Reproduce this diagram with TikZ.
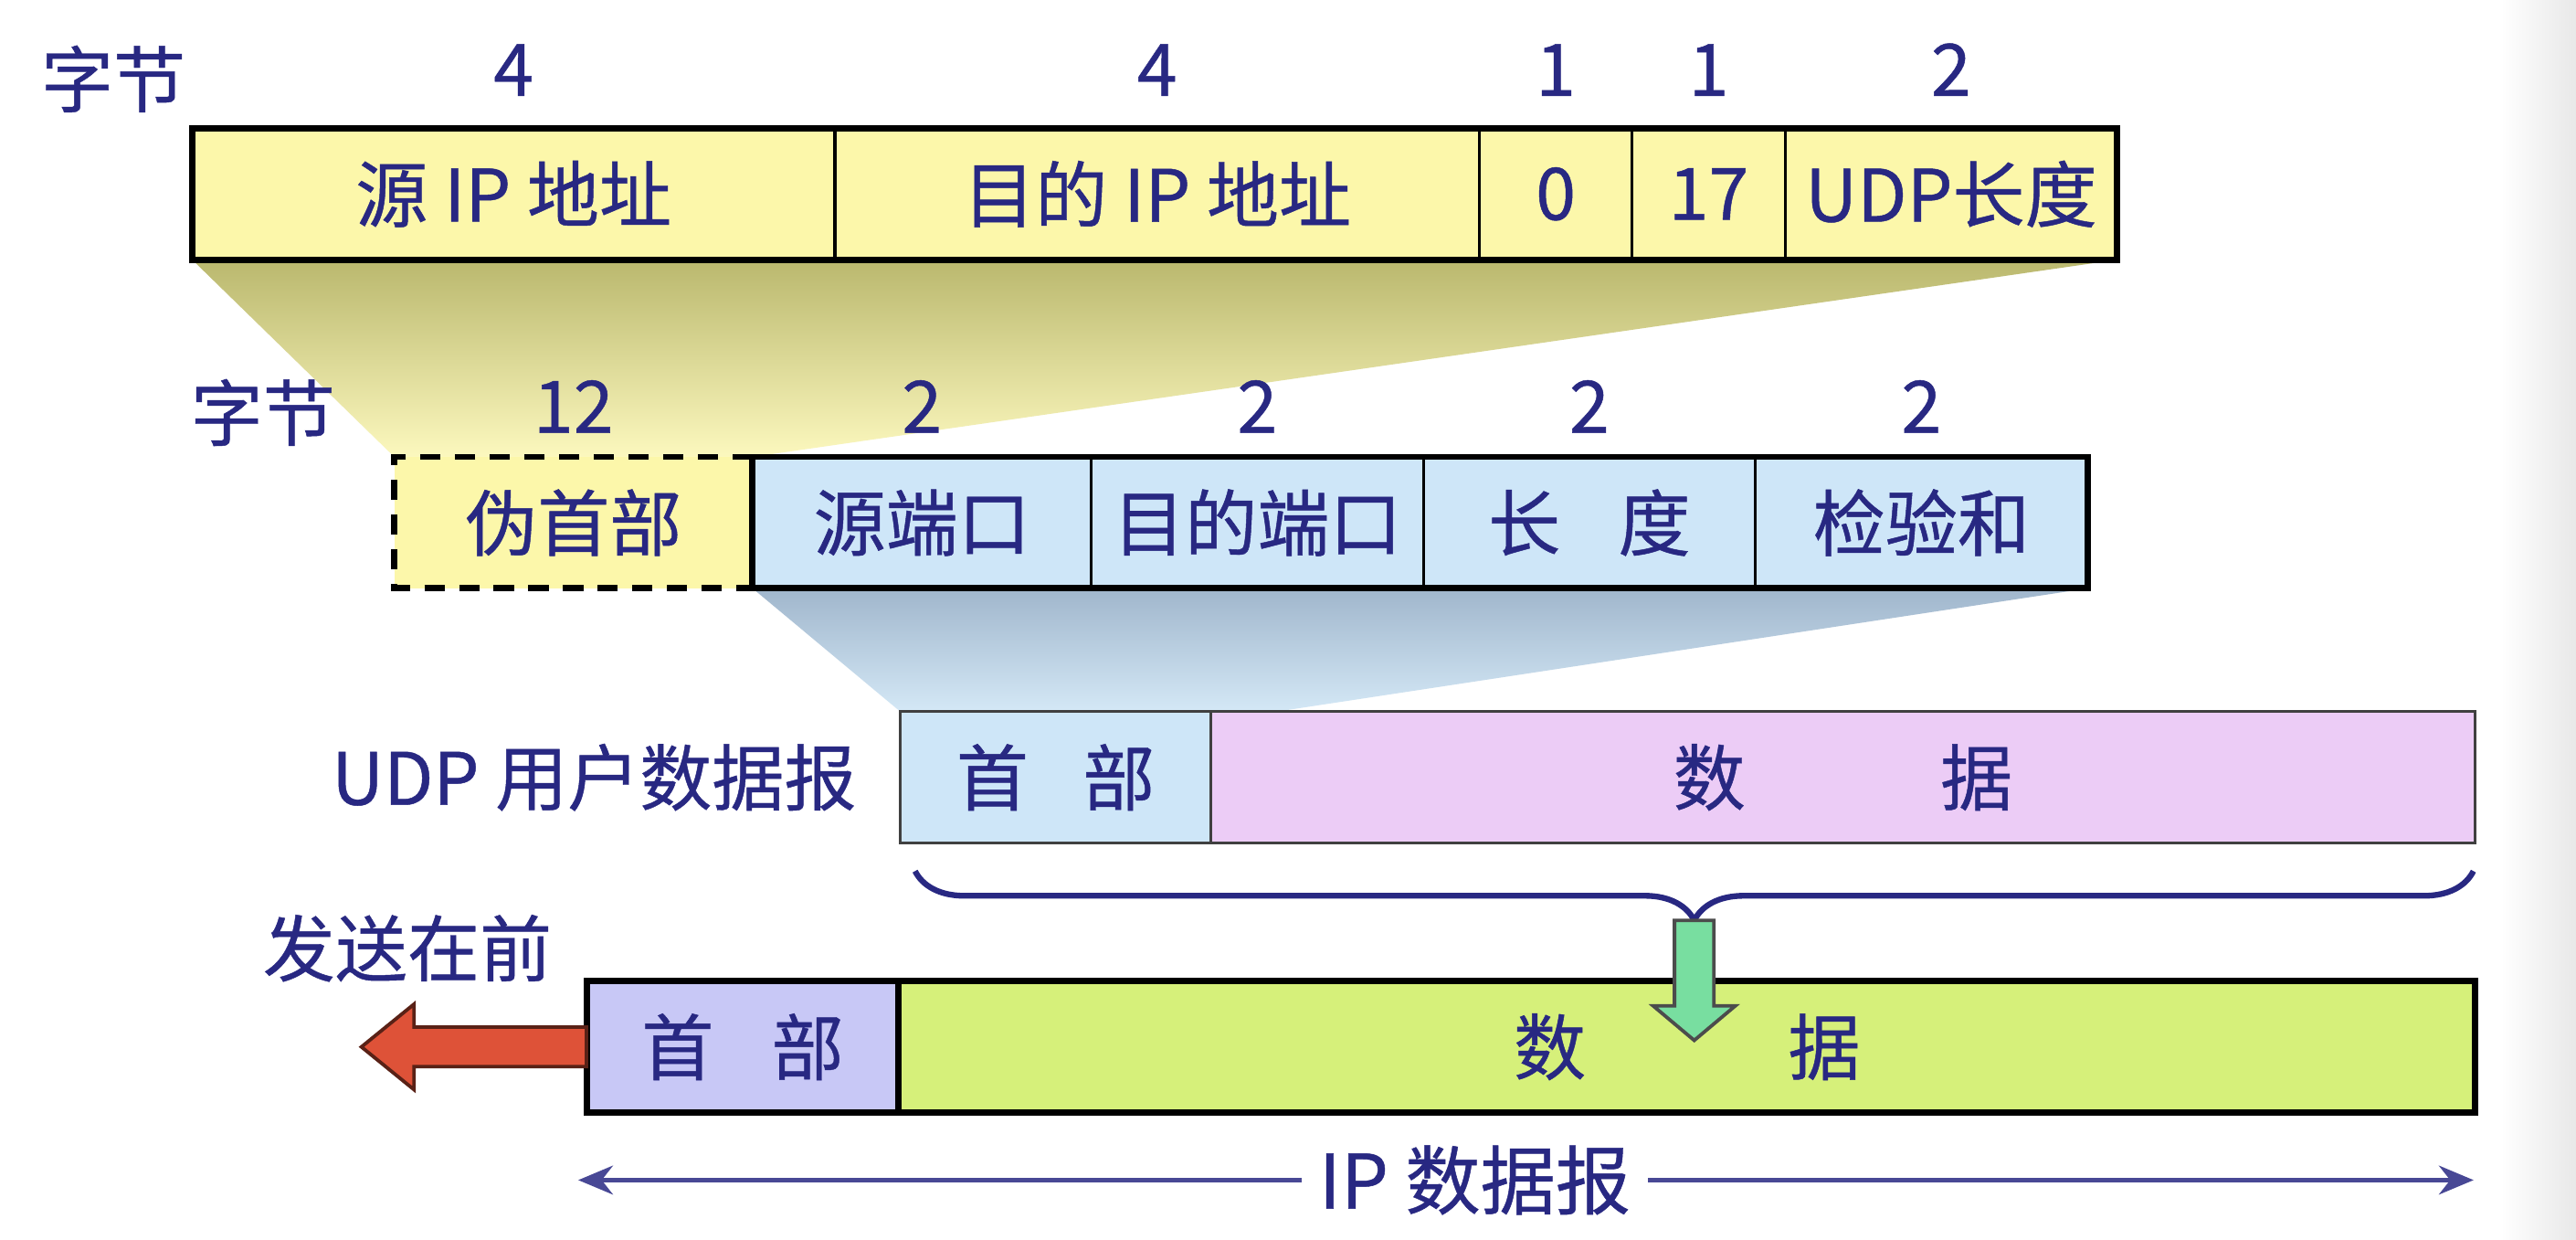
\documentclass[tikz,border=0pt]{standalone}
\usepackage{fontspec}
\setmainfont{Noto Sans CJK SC}[FakeBold=0.6]
\usetikzlibrary{positioning,calc,backgrounds,decorations.pathreplacing,arrows.meta}

\definecolor{ink}{RGB}{40,40,130}
\definecolor{ipyellow}{RGB}{252,247,170}
\definecolor{udpblue}{RGB}{206,230,248}
\definecolor{datapink}{RGB}{236,204,246}
\definecolor{iphead}{RGB}{200,200,246}
\definecolor{iplime}{RGB}{214,240,122}
\definecolor{olive}{RGB}{186,184,110}
\definecolor{paleyellow}{RGB}{252,248,190}
\definecolor{slateblue}{RGB}{160,182,204}
\definecolor{paleblue}{RGB}{212,232,246}
\definecolor{sendred}{RGB}{222,82,56}
\definecolor{downgreen}{RGB}{120,222,160}

\tikzset{
  lbl/.style={text=ink, font=\fontsize{12.5}{15}\selectfont, inner sep=0pt},
  fld/.style={lbl, draw, line width=0.5pt, minimum height=0.8cm, outer sep=0pt},
  frame/.style={line width=1.1pt},
}

\begin{document}
\begin{tikzpicture}[x=0.01cm, y=-0.01cm]
    \useasboundingbox (0,0) rectangle (1568,754);

    \node[fld, fill=ipyellow, minimum width=3.91cm, anchor=north west] (srcip) at (117,78) {源 IP 地址};
    \node[fld, fill=ipyellow, minimum width=3.92cm, right=0pt of srcip] (dstip) {目的 IP 地址};
    \node[fld, fill=ipyellow, minimum width=0.93cm, right=0pt of dstip] (zero) {0};
    \node[fld, fill=ipyellow, minimum width=0.93cm, right=0pt of zero] (proto) {17};
    \node[fld, fill=ipyellow, minimum width=2.02cm, right=0pt of proto] (udplen) {UDP长度};
    \draw[frame] (srcip.north west) rectangle (udplen.south east);

    \node[lbl] (bytesa) at (69,48) {字节};
    \node[lbl, above=0.19cm of srcip] (nsrcip) {4};
    \node[lbl, above=0.19cm of dstip] (ndstip) {4};
    \node[lbl, above=0.19cm of zero] (nzero) {1};
    \node[lbl, above=0.19cm of proto] (nproto) {1};
    \node[lbl, above=0.19cm of udplen] (nudplen) {2};

    \node[fld, fill=ipyellow, draw=none, minimum width=2.18cm, anchor=north west] (pseudo) at (240,278) {伪首部};
    \node[fld, fill=udpblue, minimum width=2.06cm, right=0pt of pseudo] (sport) {源端口};
    \node[fld, fill=udpblue, minimum width=2.02cm, right=0pt of sport] (dport) {目的端口};
    \node[fld, fill=udpblue, minimum width=2.02cm, right=0pt of dport] (ulen) {长\hspace{0.8em}度};
    \node[fld, fill=udpblue, minimum width=2.02cm, right=0pt of ulen] (csum) {检验和};
    \draw[frame] (sport.north west) rectangle (csum.south east);
    \draw[frame, dash pattern=on 3.5pt off 2.5pt] (pseudo.north east) -- (pseudo.north west) -- (pseudo.south west) -- (pseudo.south east);

    \node[lbl] (bytesb) at (160,251) {字节};
    \node[lbl, above=0.14cm of pseudo] (npseudo) {12};
    \node[lbl, above=0.14cm of sport] (nsport) {2};
    \node[lbl, above=0.14cm of dport] (ndport) {2};
    \node[lbl, above=0.14cm of ulen] (nulen) {2};
    \node[lbl, above=0.14cm of csum] (ncsum) {2};

    \node[fld, fill=udpblue, draw=black!75, minimum width=1.89cm, anchor=north west] (udphdr) at (548,433) {首\hspace{0.75em}部};
    \node[fld, fill=datapink, draw=black!75, minimum width=7.69cm, right=0pt of udphdr] (udpdata) {数\hspace{2.7em}据};
    \node[lbl, left=0.26cm of udphdr] (udpname) {UDP 用户数据报};

    \node[fld, fill=iphead, minimum width=1.90cm, anchor=north west] (iphdr) at (357,597) {首\hspace{0.8em}部};
    \node[fld, fill=iplime, minimum width=9.59cm, right=0pt of iphdr] (ipdata) {数\hspace{2.8em}据};
    \draw[frame] (iphdr.north west) rectangle (ipdata.south east);
    \draw[frame] (iphdr.north east) -- (iphdr.south east);

    \draw[ink, line width=1pt, decorate, decoration={brace, mirror, amplitude=0.3cm}]
        ([xshift=0.09cm, yshift=-0.17cm]udphdr.south west) coordinate (bl) -- ([xshift=-0.01cm, yshift=-0.17cm]udpdata.south east) coordinate (br);
    \coordinate (btip) at ($(bl)!0.5!(br)+(0,30)$);
    \draw[fill=downgreen, draw=black!70, line width=0.6pt] (btip) ++(-12,0) -- ++(0,52) -- ++(-13,0) -- ++(25,21) -- ++(25,-21) -- ++(-13,0) -- ++(0,-52) -- cycle;

    \draw[fill=sendred, draw=black!60!sendred, line width=0.6pt] (iphdr.west) ++(0,-12) -- ++(-105,0) -- ++(0,-14) -- ++(-32,26) -- ++(32,26) -- ++(0,-14) -- ++(105,0) -- cycle;
    \node[lbl] (sendfirst) at (248,577) {发送在前};

    \draw[{Stealth[length=6pt,width=5pt]}-{Stealth[length=6pt,width=5pt]}, ink!85, line width=0.7pt]
        ([xshift=-0.05cm, yshift=-0.41cm]iphdr.south west) -- node[lbl, pos=0.473, fill=white, inner xsep=3pt, font=\fontsize{13}{15}\selectfont] (ipname) {IP 数据报}
        ([xshift=-0.01cm, yshift=-0.41cm]ipdata.south east);

    \begin{scope}[on background layer]
        \fill[white] (0,0) rectangle (1568,754);
        \shade[left color=white, right color=black!9] (1522,0) rectangle (1568,754);
        \shade[top color=olive, bottom color=paleyellow] (srcip.south west) -- (udplen.south east) -- (pseudo.north east) -- (pseudo.north west) -- cycle;
        \shade[top color=slateblue, bottom color=paleblue] (sport.south west) -- (csum.south east) -- ([xshift=0.4cm]udphdr.north east) -- (udphdr.north west) -- cycle;
    \end{scope}
\end{tikzpicture}
\end{document}
